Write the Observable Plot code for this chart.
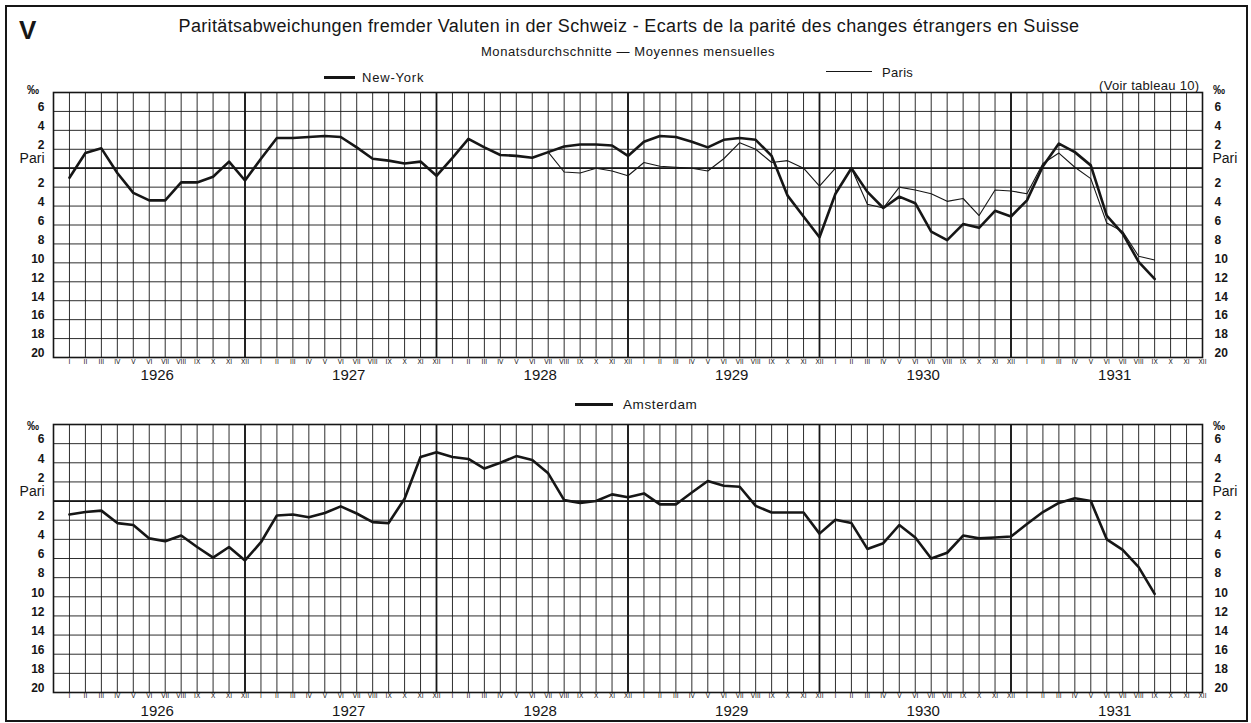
<!DOCTYPE html>
<html>
<head>
<meta charset="utf-8">
<script src="https://cdn.jsdelivr.net/npm/d3@7"></script>
<script src="https://cdn.jsdelivr.net/npm/@observablehq/plot@0.6"></script>
<style>
  body { margin: 0; background: #fff; font-family: "Liberation Sans", Arial, sans-serif; }
  #wrap { position: relative; width: 1251px; height: 723px; overflow: hidden; background: #fff; }
  .abs { position: absolute; white-space: nowrap; color: #161616; line-height: 1; }
  #outer { position: absolute; left: 5px; top: 5px; width: 1243px; height: 717px; border: 2px solid #161616; box-sizing: border-box; }
  .plot { position: absolute; left: 0; }
  .leg { position: absolute; border-top-style: solid; border-top-color: #161616; }
  .months text { font-family: "Liberation Sans Narrow", "DejaVu Sans Condensed", "Liberation Sans", sans-serif; }
</style>
</head>
<body>
<div id="wrap">
  <div id="outer"></div>
  <div class="abs" style="left:19px;top:17px;font-size:26px;font-weight:bold;">V</div>
  <div class="abs" style="left:0;width:1258px;text-align:center;top:17px;font-size:18px;letter-spacing:0.35px;">Paritätsabweichungen fremder Valuten in der Schweiz - Ecarts de la parité des changes étrangers en Suisse</div>
  <div class="abs" style="left:0;width:1256px;text-align:center;top:45px;font-size:13px;letter-spacing:0.6px;">Monatsdurchschnitte — Moyennes mensuelles</div>
  <div class="leg" style="left:324px;top:76px;width:31px;border-top-width:3px;"></div>
  <div class="abs" style="left:362px;top:71px;font-size:13px;letter-spacing:0.8px;">New-York</div>
  <div class="leg" style="left:826px;top:71px;width:46px;border-top-width:1px;"></div>
  <div class="abs" style="left:882px;top:66px;font-size:13px;letter-spacing:0.3px;">Paris</div>
  <div class="abs" style="left:1099px;top:79px;font-size:13px;letter-spacing:0.3px;">(Voir tableau 10)</div>
  <div class="abs" style="left:27px;top:84px;font-size:12px;font-weight:bold;">‰</div>
  <div class="abs" style="left:1213px;top:84px;font-size:12px;font-weight:bold;">‰</div>
  <div class="leg" style="left:575px;top:403px;width:38px;border-top-width:3px;"></div>
  <div class="abs" style="left:623px;top:398px;font-size:13.5px;letter-spacing:0.6px;">Amsterdam</div>
  <div class="abs" style="left:27px;top:420px;font-size:12px;font-weight:bold;">‰</div>
  <div class="abs" style="left:1213px;top:420px;font-size:12px;font-weight:bold;">‰</div>
  <div id="p1" class="plot" style="top:0;"></div>
  <div id="p2" class="plot" style="top:400px;"></div>
</div>
<script>
// ---- data (‰ deviation from parity; monthly averages, Jan 1926 = index 0) ----
const monthLabels = ["I","II","III","IV","V","VI","VII","VIII","IX","X","XI","XII"];
const years = [1926, 1927, 1928, 1929, 1930, 1931];
const yTickValues = [6, 4, 2, -2, -4, -6, -8, -10, -12, -14, -16, -18, -20];

const newYork = [
  -1.0, 1.6, 2.1, -0.5, -2.6, -3.4, -3.4, -1.5, -1.5, -0.9, 0.7, -1.3,
  1.0, 3.2, 3.2, 3.3, 3.4, 3.3, 2.2, 1.0, 0.8, 0.5, 0.7, -0.8,
  1.1, 3.1, 2.2, 1.4, 1.3, 1.1, 1.7, 2.3, 2.5, 2.5, 2.4, 1.3,
  2.8, 3.4, 3.3, 2.8, 2.2, 3.0, 3.2, 3.0, 1.3, -2.9, -5.1, -7.3,
  -2.7, 0.0, -2.5, -4.2, -3.0, -3.7, -6.7, -7.6, -5.9, -6.3, -4.5, -5.1,
  -3.4, 0.2, 2.6, 1.7, 0.3, -5.0, -6.9, -9.9, -11.7
];
const parisStart = 30; // July 1928
const paris = [
  1.7, -0.4, -0.5, 0.0, -0.3, -0.8,
  0.6, 0.2, 0.1, 0.0, -0.3, 1.0, 2.7, 2.0, 0.6, 0.8, 0.0, -1.9,
  0.0, 0.0, -3.8, -4.2, -2.0, -2.3, -2.7, -3.5, -3.2, -5.0, -2.3, -2.4,
  -2.7, 0.5, 1.6, 0.1, -1.1, -5.8, -6.7, -9.3, -9.7
];
const amsterdam = [
  -1.4, -1.15, -1.0, -2.3, -2.5, -3.9, -4.2, -3.6, -4.8, -5.9, -4.8, -6.2,
  -4.3, -1.5, -1.4, -1.7, -1.25, -0.55, -1.3, -2.2, -2.3, 0.25, 4.6, 5.1,
  4.6, 4.4, 3.4, 4.0, 4.7, 4.3, 2.9, 0.1, -0.2, 0.0, 0.7, 0.4,
  0.8, -0.35, -0.35, 0.9, 2.1, 1.6, 1.5, -0.5, -1.2, -1.2, -1.2, -3.4,
  -1.95, -2.3, -5.0, -4.4, -2.5, -3.8, -6.0, -5.4, -3.6, -3.9, -3.8, -3.7,
  -2.4, -1.15, -0.2, 0.3, 0.0, -4.0, -5.1, -6.9, -9.7
];

const toRows = (vals, start = 0) => vals.map((v, k) => ({ i: start + k, v }));
const ink = "#161616";

function panel({ series, height, marginTop, marginBottom, monthPad, yearPad }) {
  const nMonths = years.length * 12;
  const gridY = d3.range(-20, 9, 2);
  const gridX = d3.range(0, nMonths - 1);
  const yearEnds = years.slice(0, -1).map((y, k) => k * 12 + 11);
  const yearMid = years.map((y, k) => k * 12 + 5.5);
  const font = { fill: ink };
  return Plot.plot({
    width: 1251, height, marginTop, marginBottom, marginLeft: 53, marginRight: 49,
    x: { type: "linear", domain: [-1, nMonths - 1] },
    y: { type: "linear", domain: [-20, 8] },
    style: { fontFamily: "'Liberation Sans', Arial, sans-serif", color: ink, background: "transparent", overflow: "visible" },
    marks: [
      Plot.ruleY(gridY, { stroke: ink, strokeWidth: 0.9 }),
      Plot.ruleX(gridX, { stroke: ink, strokeWidth: 0.9 }),
      Plot.ruleX(yearEnds, { stroke: ink, strokeWidth: 1.8 }),
      Plot.ruleY([0], { stroke: ink, strokeWidth: 1.8 }),
      Plot.frame({ stroke: ink, strokeWidth: 1.6 }),
      Plot.axisY({ anchor: "left", ticks: yTickValues, tickSize: 0, tickPadding: 9, tickFormat: d => String(Math.abs(d)), fontSize: 12, fontWeight: "bold", dy: -4, label: null, ...font }),
      Plot.axisY({ anchor: "left", ticks: [0], tickSize: 0, tickPadding: 9, tickFormat: () => "Pari", fontSize: 14, dy: -10, label: null, ...font }),
      Plot.axisY({ anchor: "right", ticks: yTickValues, tickSize: 0, tickPadding: 12, tickFormat: d => String(Math.abs(d)), fontSize: 12, fontWeight: "bold", dy: -4, label: null, ...font }),
      Plot.axisY({ anchor: "right", ticks: [0], tickSize: 0, tickPadding: 10, tickFormat: () => "Pari", fontSize: 14, dy: -10, label: null, ...font }),
      Plot.axisX({ ticks: d3.range(0, nMonths), tickSize: 0, tickPadding: monthPad, tickFormat: i => monthLabels[i % 12], fontSize: 7, letterSpacing: -0.4, className: "months", label: null, ...font }),
      Plot.axisX({ ticks: yearMid, tickSize: 0, tickPadding: yearPad, tickFormat: d => String(years[Math.round((d - 5.5) / 12)]), fontSize: 15, label: null, ...font }),
      ...series.map(s => Plot.line(s.rows, { x: "i", y: "v", stroke: ink, strokeWidth: s.w, strokeLinejoin: "round" }))
    ]
  });
}

document.getElementById("p1").append(panel({
  series: [
    { rows: toRows(paris, parisStart), w: 1.1 },
    { rows: toRows(newYork), w: 2.6 }
  ],
  height: 400, marginTop: 92, marginBottom: 43, monthPad: 2, yearPad: 12
}));
document.getElementById("p2").append(panel({
  series: [{ rows: toRows(amsterdam), w: 2.6 }],
  height: 323, marginTop: 24, marginBottom: 31, monthPad: 1, yearPad: 13
}));
</script>
</body>
</html>
